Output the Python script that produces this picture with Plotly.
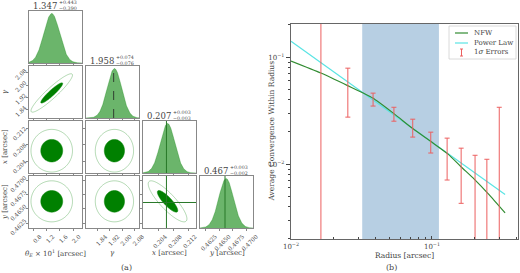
import numpy as np
import plotly.graph_objects as go

# ================= Panel (a): posterior corner plot =================
param_labels = ["<i>θ<sub>E</sub></i> × 10<sup>1</sup> [arcsec]", "<i>γ</i>", "<i>x</i> [arcsec]", "<i>y</i> [arcsec]"]
param_mean = [1.347, 1.95, 0.2065, 0.4663]
param_sigma = [0.24, 0.047, 0.00195, 0.00135]
param_corr = [[1.0, 0.93, 0.0, 0.0],
              [0.93, 1.0, 0.0, 0.0],
              [0.0, 0.0, 1.0, -0.85],
              [0.0, 0.0, -0.85, 1.0]]
contour_sigma_levels = [1.4, 2.65]          # inner (filled) and outer (line) contour, in sigma units
title_median = ["1.347", "1.958", "0.207", "0.467"]
title_plus = ["+0.443", "+0.074", "+0.003", "+0.003"]
title_minus = ["−0.390", "−0.076", "−0.003", "−0.002"]
param_ticks = [[0.8, 1.2, 1.6, 2.0], [1.84, 1.92, 2.00, 2.08], [0.204, 0.208, 0.212],
               [0.4625, 0.4650, 0.4675, 0.4700]]
param_ticktext = [["0.8", "1.2", "1.6", "2.0"], ["1.84", "1.92", "2.00", "2.08"],
                  ["0.204", "0.208", "0.212"], ["0.4625", "0.4650", "0.4675", "0.4700"]]
gamma_marker = 1.945
truth_x = 0.2062
truth_y = 0.4661

# ================= Panel (b): average convergence within radius =================
radius = [0.01, 0.0163, 0.025, 0.038, 0.054, 0.073, 0.1, 0.13, 0.16, 0.2, 0.25, 0.33]
kappa_nfw = [0.092, 0.071, 0.0545, 0.0415, 0.0295, 0.0215, 0.016, 0.0124, 0.0095, 0.0072, 0.0053, 0.0035]
kappa_powerlaw = [0.141, 0.0889, 0.0594, 0.0401, 0.0288, 0.0217, 0.0161, 0.0126, 0.0104, 0.0084, 0.0068, 0.0052]
err_radius = [0.0163, 0.0253, 0.0382, 0.0537, 0.073, 0.098, 0.128, 0.161, 0.202, 0.245, 0.30]
err_kappa = [0.10, 0.0532, 0.0405, 0.0296, 0.0221, 0.0163, 0.0123, 0.0092, 0.0050, 0.0040, 0.0100]
err_sigma = [0.15, 0.0257, 0.0056, 0.0044, 0.0042, 0.0036, 0.0052, 0.0049, 0.0071, 0.0071, 0.0240]
band_lo, band_hi = 0.032, 0.112
legend_names = ["NFW", "Power Law", "1<i>σ</i> Errors"]

# ================= layout helpers =================
W, H = 520, 273
def fx(p): return p / W
def fy(p): return 1 - p / H

FONT = "DejaVu Serif"
TXT = "#444444"
GREEN = "rgb(0,128,0)"
HIST = "rgba(0,128,0,0.58)"
OUTER = "rgba(0,128,0,0.38)"
RED = "rgb(236,95,95)"

col_left = [29, 86, 143, 200]
row_top = [11, 66, 121, 176]
PW, PH = 53, 52
col_range = [[0.65, 2.275], [1.765, 2.11], [0.19994, 0.21409], [0.4615, 0.47125]]
row_range = [None, [1.7875, 2.125], [0.2011, 0.2137], [0.46165, 0.47072]]
col_labelshift = [6, 8, 7, 10]
row_labelshift = [0, -3, 0, -3]

fig = go.Figure()
layout = dict(width=W, height=H, margin=dict(l=0, r=0, t=0, b=0, autoexpand=False), showlegend=False,
              paper_bgcolor="white", plot_bgcolor="white",
              font=dict(family=FONT, size=7, color=TXT))
shapes, annotations = [], []

def axis_common():
    return dict(showline=True, mirror=True, linecolor="#888888", linewidth=0.8, ticks="outside",
                ticklen=2, tickwidth=0.6, tickcolor="#888888", showgrid=False, zeroline=False,
                automargin=False, tickfont=dict(size=5.8, color=TXT, family=FONT), tickangle=-45)

def note(x, y, text, size=7, xanchor="center", angle=0):
    annotations.append(dict(x=fx(x), y=fy(y), xref="paper", yref="paper", text=text, showarrow=False,
                            xanchor=xanchor, yanchor="middle", textangle=angle, font=dict(size=size),
                            borderpad=0))

n = 0
for i in range(4):
    for j in range(i + 1):
        n += 1
        xk = "xaxis" if n == 1 else f"xaxis{n}"
        yk = "yaxis" if n == 1 else f"yaxis{n}"
        xr, yr = f"x{n}" if n > 1 else "x", f"y{n}" if n > 1 else "y"
        xa = axis_common()
        xa.update(domain=[fx(col_left[j]), fx(col_left[j] + PW)], anchor=yr, range=col_range[j],
                  tickvals=param_ticks[j], ticktext=param_ticktext[j], showticklabels=(i == 3),
                  ticklabelshift=col_labelshift[j])
        ya = axis_common()
        ya.update(domain=[fy(row_top[i] + PH), fy(row_top[i])], anchor=xr)
        if i == j:
            ya.update(range=[0, 1.05], showticklabels=False, ticks="")
            xs = np.linspace(col_range[j][0], col_range[j][1], 300)
            dens = np.exp(-0.5 * ((xs - param_mean[j]) / param_sigma[j]) ** 2)
            fig.add_trace(go.Scatter(x=xs, y=dens, mode="lines", fill="tozeroy", fillcolor=HIST,
                                     line=dict(color=HIST, width=0.5), xaxis=xr, yaxis=yr,
                                     hoverinfo="skip"))
        else:
            ya.update(range=row_range[i], tickvals=param_ticks[i], ticktext=param_ticktext[i],
                      showticklabels=(j == 0), ticklabelshift=row_labelshift[i])
            xs = np.linspace(col_range[j][0], col_range[j][1], 120)
            ys = np.linspace(row_range[i][0], row_range[i][1], 120)
            XX, YY = np.meshgrid(xs, ys)
            u = (XX - param_mean[j]) / param_sigma[j]
            v = (YY - param_mean[i]) / param_sigma[i]
            rho = param_corr[i][j]
            Z = np.sqrt((u * u - 2 * rho * u * v + v * v) / (1 - rho ** 2))
            fig.add_trace(go.Contour(x=xs, y=ys, z=Z, showscale=False, hoverinfo="skip",
                                     contours=dict(type="constraint", operation=">",
                                                   value=contour_sigma_levels[0]),
                                     fillcolor=GREEN, line=dict(color=GREEN, width=0.5),
                                     xaxis=xr, yaxis=yr))
            fig.add_trace(go.Contour(x=xs, y=ys, z=Z, showscale=False, hoverinfo="skip",
                                     autocontour=False,
                                     contours=dict(start=contour_sigma_levels[1], end=contour_sigma_levels[1],
                                                   size=1, coloring="none"),
                                     line=dict(color=OUTER, width=0.8, smoothing=1),
                                     xaxis=xr, yaxis=yr))
        layout[xk] = xa
        layout[yk] = ya
        # marker lines
        if i == 1 and j == 1:
            shapes.append(dict(type="line", xref=xr, yref=f"{yr} domain", x0=gamma_marker, x1=gamma_marker,
                               y0=0, y1=1, line=dict(color="#222222", width=0.8, dash="dash")))
        if i == 2 and j == 2:
            shapes.append(dict(type="line", xref=xr, yref=f"{yr} domain", x0=truth_x, x1=truth_x,
                               y0=0, y1=1, line=dict(color="rgb(40,120,40)", width=1)))
        if i == 3 and j == 3:
            shapes.append(dict(type="line", xref=xr, yref=f"{yr} domain", x0=truth_y, x1=truth_y,
                               y0=0, y1=1, line=dict(color="rgb(40,120,40)", width=1)))
        if i == 3 and j == 2:
            shapes.append(dict(type="line", xref=xr, yref=f"{yr} domain", x0=truth_x, x1=truth_x,
                               y0=0, y1=1, line=dict(color="rgb(40,120,40)", width=1)))
            shapes.append(dict(type="line", xref=f"{xr} domain", yref=yr, x0=0, x1=1,
                               y0=truth_y, y1=truth_y, line=dict(color="rgb(40,120,40)", width=1)))

# titles above diagonal panels
for k in range(4):
    cx = col_left[k] + PW / 2 + 2
    top = row_top[k]
    note(cx, top - 5, title_median[k], size=8.5, xanchor="right")
    note(cx, top - 8.5, title_plus[k], size=4.8, xanchor="left")
    note(cx, top - 2.5, title_minus[k], size=4.8, xanchor="left")
# axis labels of corner plot
for k in range(4):
    note(col_left[k] + PW / 2, 253, param_labels[k])
for k in range(1, 4):
    note(5, row_top[k] + PH / 2, param_labels[k], angle=-90)
note(126, 267, "(a)", size=8)

# ================= Panel (b) traces =================
fig.add_trace(go.Scatter(x=radius, y=kappa_powerlaw, mode="lines", name=legend_names[1],
                         line=dict(color="rgb(90,228,228)", width=1.2), xaxis="x11", yaxis="y11"))
fig.add_trace(go.Scatter(x=radius, y=kappa_nfw, mode="lines", name=legend_names[0],
                         line=dict(color="rgb(50,140,50)", width=1.2, shape="spline", smoothing=0.6),
                         xaxis="x11", yaxis="y11"))
fig.add_trace(go.Scatter(x=err_radius, y=err_kappa, mode="markers", name=legend_names[2],
                         marker=dict(size=1, color="rgba(0,0,0,0)"),
                         error_y=dict(type="data", array=err_sigma, color=RED, thickness=1, width=2.5),
                         xaxis="x11", yaxis="y11"))

minor_vals = [m * 10.0 ** e for e in (-3, -2, -1) for m in range(2, 10)]
bax = dict(showline=True, mirror=True, linecolor="#666666", linewidth=1.3, ticks="outside", ticklen=4,
           tickwidth=1, tickcolor="#444444", showgrid=False, zeroline=False, type="log", automargin=False,
           tickfont=dict(size=7, color=TXT, family=FONT),
           minor=dict(ticks="outside", ticklen=2, tickwidth=0.8, tickcolor="#444444", tickvals=minor_vals))
layout["xaxis11"] = dict(bax, domain=[fx(291), fx(518)], anchor="y11", range=[-2, -0.39],
                         tickvals=[0.01, 0.1], ticktext=["10<sup>−2</sup>", "10<sup>−1</sup>"],
                         ticks="inside", ticklen=3, ticklabelstandoff=0,
                         minor=dict(ticks="inside", ticklen=2, tickwidth=0.8, tickcolor="#444444",
                                    tickvals=minor_vals))
layout["yaxis11"] = dict(bax, domain=[fy(239), fy(24)], anchor="x11", range=[-2.70, -0.69],
                         tickvals=[0.01, 0.1], ticktext=["10<sup>−2</sup>", "10<sup>−1</sup>"])
shapes.append(dict(type="rect", xref="x11", yref="y11 domain", x0=band_lo, x1=band_hi, y0=0, y1=1,
                   fillcolor="rgb(183,207,227)", line=dict(width=0), layer="below"))

note(404.5, 255, "Radius [arcsec]", size=7.5)
note(271, 131.5, "Average Convergence Within Radius", size=7.5, angle=-90)
note(391, 267.5, "(b)", size=8)

# manual compact legend (matplotlib style)
shapes.append(dict(type="rect", xref="paper", yref="paper", x0=fx(449), x1=fx(516), y0=fy(59), y1=fy(26),
                   line=dict(color="#d0d0d0", width=0.8), fillcolor="rgba(255,255,255,0.8)"))
leg_y = [33, 43, 52.5]
shapes.append(dict(type="line", xref="paper", yref="paper", x0=fx(455), x1=fx(468), y0=fy(leg_y[0]),
                   y1=fy(leg_y[0]), line=dict(color="rgb(50,140,50)", width=1.2)))
shapes.append(dict(type="line", xref="paper", yref="paper", x0=fx(455), x1=fx(468), y0=fy(leg_y[1]),
                   y1=fy(leg_y[1]), line=dict(color="rgb(90,228,228)", width=1.2)))
shapes.append(dict(type="line", xref="paper", yref="paper", x0=fx(461.5), x1=fx(461.5), y0=fy(leg_y[2] - 3.5),
                   y1=fy(leg_y[2] + 3.5), line=dict(color=RED, width=1)))
for dy in (-3.5, 3.5):
    shapes.append(dict(type="line", xref="paper", yref="paper", x0=fx(460), x1=fx(463),
                       y0=fy(leg_y[2] + dy), y1=fy(leg_y[2] + dy), line=dict(color=RED, width=1)))
for k in range(3):
    note(473, leg_y[k], legend_names[k], xanchor="left")

layout["shapes"] = shapes
layout["annotations"] = annotations
fig.update_layout(**layout)
fig.write_html("out.html", config={"displayModeBar": False},
               post_script="document.body.style.margin='0';document.body.style.overflow='hidden';")
